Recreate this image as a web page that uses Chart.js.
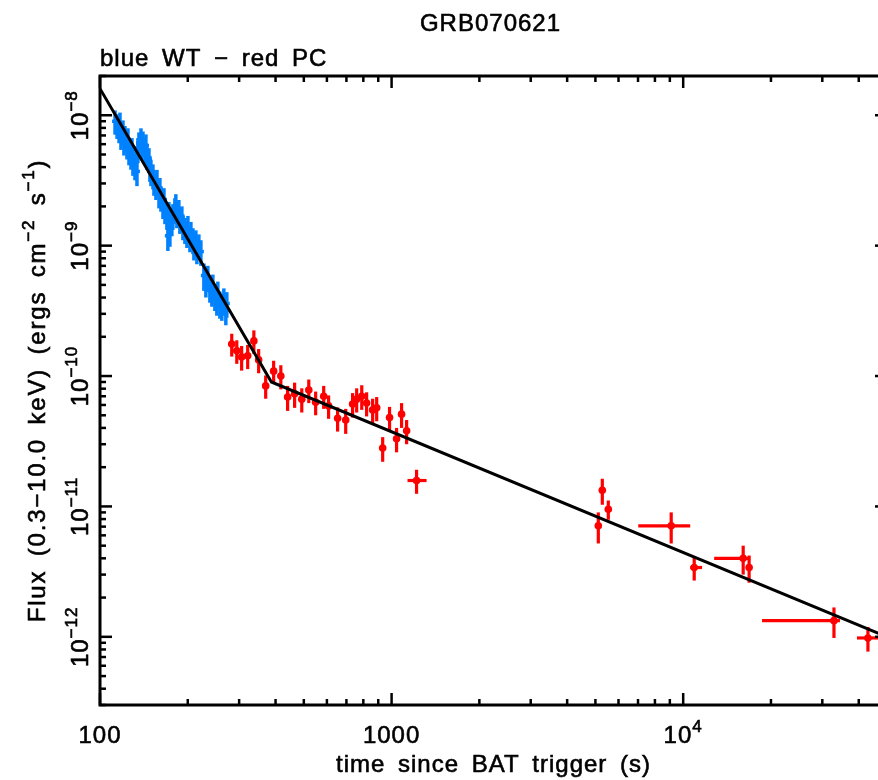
<!DOCTYPE html>
<html><head><meta charset="utf-8">
<script src="https://cdn.jsdelivr.net/npm/chart.js@4/dist/chart.umd.min.js"></script>
<style>
html,body{margin:0;padding:0;background:#fff;overflow:hidden;width:878px;height:780px}
#wrap{position:absolute;left:0;top:0;width:900px;height:780px}
canvas{display:block}
</style></head><body>
<div id="wrap"><canvas id="c" width="900" height="780"></canvas></div>
<script>
// ---- Data ----
const chartTitle = "GRB070621";
const chartSubtitle = "blue WT \u2212 red PC";

// WT mode (blue): time (s), flux (units of 1e-9 erg cm^-2 s^-1), flux error (same units)
const WT_UNIT = 1e-9;
const wtTime = [112.6,114.4,116.2,117.1,118.0,119.9,120.8,121.8,123.7,124.7,
  125.7,127.7,128.7,129.7,131.8,132.8,133.9,134.9,136.0,138.2,
  139.3,140.4,142.6,143.7,144.9,147.2,148.3,149.5,151.9,153.1,
  155.5,156.8,159.3,160.5,161.8,164.4,165.7,167.0,169.6,170.9,
  172.3,173.7,176.4,177.8,180.6,182.0,183.5,186.4,187.9,190.9,
  192.4,195.5,198.6,200.2,203.4,205.0,208.3,209.9,213.2,214.9,
  218.3,221.8,227.1,230.7,234.3,238.1,241.9,243.8,247.7,251.6,
  253.6,257.7,261.7,265.9,270.1,272.2];
const wtFlux = [8.99,8.38,7.80,8.68,7.02,7.53,6.31,6.77,5.88,6.54,
  5.28,4.92,5.48,4.43,4.12,4.75,3.71,5.48,6.09,6.54,
  5.77,6.20,5.48,5.88,4.92,4.59,3.98,3.71,3.45,3.11,
  2.89,3.11,2.51,2.70,2.34,2.07,2.26,1.89,1.70,1.19,
  1.76,1.28,1.53,1.70,1.89,2.03,1.76,1.83,1.58,1.64,
  1.42,1.33,1.24,1.38,1.15,1.24,1.11,1.00,1.07,0.93,
  1.00,0.90,0.59,0.53,0.57,0.475,0.44,0.49,0.41,0.38,
  0.43,0.36,0.345,0.38,0.32,0.36];
const wtFluxErr = [1.9,1.8,1.7,1.8,1.6,1.6,1.4,1.5,1.3,1.4,
  1.15,1.1,1.2,1.0,0.95,1.05,0.85,1.2,1.3,1.4,
  1.25,1.3,1.2,1.25,1.1,1.0,0.9,0.85,0.75,0.7,
  0.65,0.7,0.58,0.6,0.52,0.47,0.5,0.43,0.38,0.28,
  0.4,0.3,0.35,0.38,0.42,0.45,0.4,0.41,0.35,0.36,
  0.32,0.3,0.28,0.31,0.26,0.28,0.25,0.23,0.24,0.21,
  0.22,0.2,0.14,0.13,0.13,0.11,0.1,0.11,0.095,0.09,
  0.1,0.085,0.08,0.09,0.075,0.08];

// PC mode (red): time (s), bin start/end (s), flux, flux error (erg cm^-2 s^-1)
const pcTime = [283,294.5,306,321,337,350,370,394,417,440,
  465,492,520,549,585,608,653,696,735,759,
  790,821,861,889,932,984,1040,1082,1126,1218,
  5116,5280,5536,9097,10910,16060,16830,32890,43010];
const pcTimeLo = [276,288,299,314,329,342,362,385,408,430,
  455,481,509,537,573,595,639,681,719,743,
  773,804,843,870,912,963,1018,1059,1102,1134,
  5050,5210,5460,7013,10570,12770,16600,18640,39440];
const pcTimeHi = [290,301,313,328,345,358,378,403,426,450,
  475,503,531,561,597,621,667,711,751,775,
  807,838,879,908,952,1005,1062,1105,1150,1318,
  5180,5350,5610,10570,11610,16970,17060,34490,47000];
const pcFlux = [1.76e-10,1.56e-10,1.40e-10,1.43e-10,1.86e-10,1.33e-10,8.4e-11,1.09e-10,1.0e-10,6.9e-11,
  7.3e-11,6.65e-11,7.8e-11,6.3e-11,7.0e-11,5.9e-11,4.75e-11,4.6e-11,6.1e-11,6.65e-11,
  7.0e-11,6.2e-11,5.5e-11,5.7e-11,2.8e-11,4.8e-11,3.3e-11,5.1e-11,3.8e-11,1.58e-11,
  7.1e-12,1.33e-11,9.5e-12,7.1e-12,3.4e-12,4.0e-12,3.4e-12,1.33e-12,9.8e-13];
const pcFluxErr = [3.5e-11,3.2e-11,3.0e-11,3.0e-11,3.8e-11,2.8e-11,1.7e-11,2.2e-11,2.1e-11,1.5e-11,
  1.6e-11,1.4e-11,1.6e-11,1.3e-11,1.4e-11,1.2e-11,1.0e-11,1.0e-11,1.3e-11,1.4e-11,
  1.5e-11,1.3e-11,1.2e-11,1.2e-11,0.6e-11,1.0e-11,0.7e-11,1.1e-11,0.8e-11,0.33e-11,
  1.9e-12,3.0e-12,1.6e-12,1.9e-12,0.7e-12,1.0e-12,0.8e-12,0.35e-12,0.21e-12];

// Broken power-law model (black line)
const fitTime = [100, 387, 50000];
const fitFlux = [1.6e-8, 9.0e-11, 1.0e-12];

// Axes
const xMin = 100, xMax = 50000;
const yMin = 3e-13, yMax = 2e-8;
const xTickValues = [100, 1000, 10000];
const xTickBase = ["100", "1000", "10"];
const xTickSup = ["", "", "4"];
const yTickValues = [1e-8, 1e-9, 1e-10, 1e-11, 1e-12];
const yTickSup = ["\u22128", "\u22129", "\u221210", "\u221211", "\u221212"];
const xTitle = "time since BAT trigger (s)";
const yTitleParts = [["Flux (0.3\u221210.0 keV) (ergs cm", false], ["\u22122", true], [" s", false], ["\u22121", true], [")", false]];

// ---- Styling ----
const FONT = '"Liberation Sans", Arial, Helvetica, sans-serif';
const FS = 24, SFS = 17, RISE = 11;
const WS = 5;
const BLUE = 'rgb(0,130,255)', RED = 'rgb(255,0,0)';

function setFont(ctx, sup, ls) {
  ctx.font = (sup ? SFS : FS) + 'px ' + FONT;
  ctx.letterSpacing = ls + 'px';
  ctx.wordSpacing = WS + 'px';
}
function richWidth(ctx, parts, ls) {
  let w = 0;
  for (const [t, sup] of parts) { setFont(ctx, sup, ls); w += ctx.measureText(t).width; }
  return w;
}
function drawRich(ctx, x, y, parts, align, rot, ls) {
  if (ls === undefined) ls = 1;
  ctx.save();
  ctx.translate(x, y);
  if (rot) ctx.rotate(rot);
  ctx.fillStyle = '#000';
  ctx.strokeStyle = '#000';
  ctx.lineWidth = 0.6;
  ctx.textBaseline = 'alphabetic';
  ctx.textAlign = 'left';
  const w = richWidth(ctx, parts, ls);
  let cx = align === 'center' ? -w / 2 : (align === 'right' ? -w : 0);
  for (const [t, sup] of parts) {
    setFont(ctx, sup, ls);
    ctx.fillText(t, cx, sup ? -RISE : 0);
    ctx.strokeText(t, cx, sup ? -RISE : 0);
    cx += ctx.measureText(t).width;
  }
  ctx.restore();
}

const errorBars = {
  id: 'errorBars',
  beforeDatasetsDraw(chart) {
    const { ctx, chartArea: a, scales: { x, y } } = chart;
    ctx.save();
    ctx.beginPath(); ctx.rect(a.left, a.top, a.right - a.left, a.bottom - a.top); ctx.clip();
    ctx.lineCap = 'butt';
    // blue WT
    ctx.strokeStyle = BLUE; ctx.lineWidth = 3.5;
    for (let i = 0; i < wtTime.length; i++) {
      const f = wtFlux[i] * WT_UNIT, e = wtFluxErr[i] * WT_UNIT;
      const px = x.getPixelForValue(wtTime[i]);
      ctx.beginPath();
      ctx.moveTo(px, y.getPixelForValue(f + e));
      ctx.lineTo(px, y.getPixelForValue(Math.max(f - e, yMin / 10)));
      ctx.stroke();
      const py = y.getPixelForValue(f);
      ctx.beginPath(); ctx.moveTo(px - 3, py); ctx.lineTo(px + 3, py); ctx.stroke();
    }
    // red PC
    ctx.strokeStyle = RED; ctx.lineWidth = 3.2;
    for (let i = 0; i < pcTime.length; i++) {
      const f = pcFlux[i], e = pcFluxErr[i];
      const px = x.getPixelForValue(pcTime[i]);
      const py = y.getPixelForValue(f);
      ctx.beginPath();
      ctx.moveTo(px, y.getPixelForValue(f + e));
      ctx.lineTo(px, y.getPixelForValue(Math.max(f - e, yMin / 10)));
      ctx.stroke();
      ctx.beginPath();
      ctx.moveTo(x.getPixelForValue(pcTimeLo[i]), py);
      ctx.lineTo(x.getPixelForValue(pcTimeHi[i]), py);
      ctx.stroke();
    }
    ctx.restore();
  }
};

const frameAndText = {
  id: 'frameAndText',
  afterDraw(chart) {
    const { ctx, chartArea: a, scales: { x, y } } = chart;
    ctx.save();
    ctx.strokeStyle = '#000';
    ctx.lineCap = 'butt';
    ctx.lineWidth = 2.5;
    const seg = (x1, y1, x2, y2) => { ctx.beginPath(); ctx.moveTo(x1, y1); ctx.lineTo(x2, y2); ctx.stroke(); };
    // x ticks (inward, bottom and top)
    for (let e = 2; e <= 4; e++) for (let m = 1; m <= 9; m++) {
      const v = m * Math.pow(10, e);
      if (v < xMin || v > xMax) continue;
      const px = x.getPixelForValue(v);
      const L = m === 1 ? 12 : 6;
      seg(px, a.bottom, px, a.bottom - L);
      seg(px, a.top, px, a.top + L);
    }
    // y ticks (inward, left and right)
    for (let e = -13; e <= -8; e++) for (let m = 1; m <= 9; m++) {
      const v = m * Math.pow(10, e);
      if (v < yMin || v > yMax) continue;
      const py = y.getPixelForValue(v);
      const L = m === 1 ? 12 : 6;
      seg(a.left, py, a.left + L, py);
      seg(a.right, py, a.right - L, py);
    }
    ctx.lineWidth = 3;
    ctx.strokeRect(a.left, a.top, a.right - a.left, a.bottom - a.top);
    ctx.restore();

    const cxm = (a.left + a.right) / 2;
    // titles
    drawRich(ctx, cxm - 3, 31, [[chartTitle, false]], 'center');
    drawRich(ctx, a.left, 66, [[chartSubtitle, false]], 'left');
    // x tick labels
    for (let i = 0; i < xTickValues.length; i++) {
      const parts = [[xTickBase[i], false]];
      if (xTickSup[i]) parts.push([xTickSup[i], true]);
      drawRich(ctx, x.getPixelForValue(xTickValues[i]), 743, parts, 'center');
    }
    drawRich(ctx, cxm, 772, [[xTitle, false]], 'center');
    // y tick labels (rotated)
    for (let i = 0; i < yTickValues.length; i++) {
      drawRich(ctx, 88, y.getPixelForValue(yTickValues[i]), [["10", false], [yTickSup[i], true]], 'center', -Math.PI / 2);
    }
    drawRich(ctx, 45, (a.top + a.bottom) / 2, yTitleParts, 'center', -Math.PI / 2, 1.8);
  }
};

const wtPoints = wtTime.map((t, i) => ({ x: t, y: wtFlux[i] * WT_UNIT }));
const pcPoints = pcTime.map((t, i) => ({ x: t, y: pcFlux[i] }));
const fitPoints = fitTime.map((t, i) => ({ x: t, y: fitFlux[i] }));

new Chart(document.getElementById('c'), {
  type: 'scatter',
  data: {
    datasets: [
      { label: 'model', data: fitPoints, showLine: true, borderColor: '#000', borderWidth: 3,
        pointRadius: 0, tension: 0, order: 0, clip: 0 },
      { label: 'PC', data: pcPoints, pointRadius: 3.8, pointStyle: 'circle', backgroundColor: RED,
        borderColor: RED, borderWidth: 0, order: 1 },
      { label: 'WT', data: wtPoints, pointRadius: 1.5, pointStyle: 'rect', backgroundColor: BLUE,
        borderColor: BLUE, borderWidth: 0, order: 2 }
    ]
  },
  options: {
    responsive: false,
    animation: false,
    devicePixelRatio: 1,
    layout: { padding: { top: 76, right: 13, left: 0, bottom: 0 } },
    plugins: { legend: { display: false }, tooltip: { enabled: false }, title: { display: false } },
    scales: {
      x: { type: 'logarithmic', min: xMin, max: xMax, position: 'bottom',
        ticks: { display: false }, grid: { display: false }, border: { display: false },
        afterFit: s => { s.height = 75; } },
      y: { type: 'logarithmic', min: yMin, max: yMax, position: 'left',
        ticks: { display: false }, grid: { display: false }, border: { display: false },
        afterFit: s => { s.width = 100; } }
    }
  },
  plugins: [errorBars, frameAndText]
});
</script>
</body></html>
